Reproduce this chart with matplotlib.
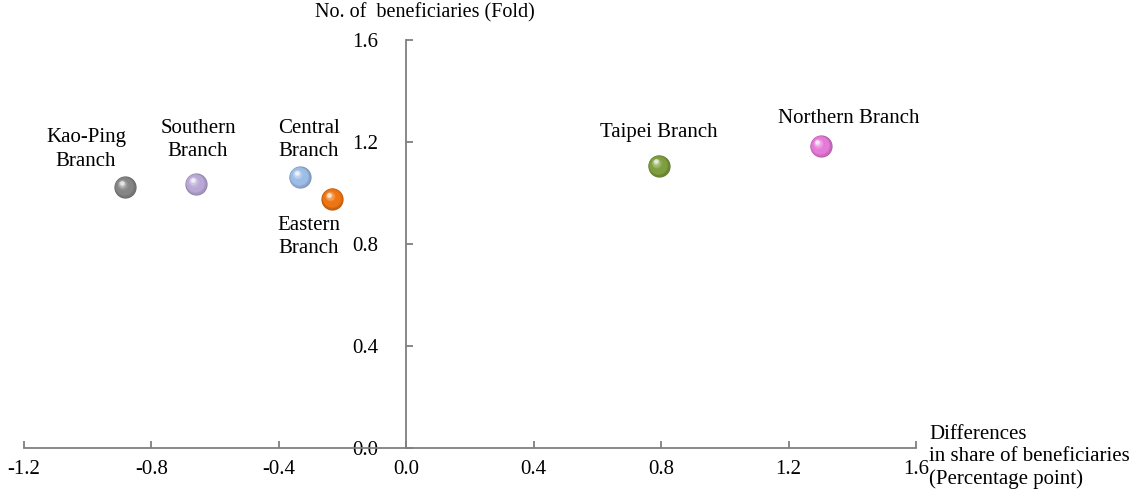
import numpy as np
import matplotlib
matplotlib.use("Agg")
import matplotlib.pyplot as plt
from matplotlib.colors import to_rgb
from matplotlib.transforms import ScaledTranslation

plt.rcParams['font.family'] = ['Liberation Serif', 'DejaVu Serif']

# Branch data: share difference (percentage point) vs. beneficiaries (fold)
branches = ["Kao-Ping\nBranch", "Southern\nBranch", "Central\nBranch",
            "Eastern\nBranch", "Taipei Branch", "Northern Branch"]
share_diff = [-0.883, -0.660, -0.334, -0.232, 0.793, 1.301]
fold = [1.022, 1.034, 1.062, 0.976, 1.106, 1.183]
colors = ["#858585", "#b9a8d6", "#9dbde6", "#ee7512", "#7f9e3e", "#e57ad8"]

# label offsets in pixels (dx, dy) relative to each point
label_offsets = [(-39, 38), (2, 44), (9, 37), (-24, -38), (0, 33), (28, 28)]

x_ticks = [-1.2, -0.8, -0.4, 0.0, 0.4, 0.8, 1.2, 1.6]
y_ticks = [0.0, 0.4, 0.8, 1.2, 1.6]

W, H, DPI = 1135, 496, 100
fig = plt.figure(figsize=(W / DPI, H / DPI), dpi=DPI)
ax = fig.add_axes([24 / W, (H - 447.7) / H, (916 - 24) / W, (447.7 - 40) / H])
ax.set_xlim(-1.2, 1.6)
ax.set_ylim(0, 1.6)

spine_color = "#7f7f7f"
for s in ("top", "right"):
    ax.spines[s].set_visible(False)
ax.spines["left"].set_position(("data", 0))
ax.spines["bottom"].set_position(("data", 0))
for s in ("left", "bottom"):
    ax.spines[s].set_color(spine_color)
    ax.spines[s].set_linewidth(1.3)

ax.set_xticks(x_ticks)
ax.set_xticklabels([f"{v:.1f}" for v in x_ticks])
ax.set_yticks(y_ticks)
ax.set_yticklabels([f"{v:.1f}" for v in y_ticks])
ax.tick_params(axis="x", direction="in", length=5, width=1.3, color=spine_color,
               labelsize=15, pad=9)
ax.tick_params(axis="y", direction="in", length=5, width=1.3, color=spine_color,
               labelsize=15, pad=20)

# shaded spheres: stacked circles, lighter towards the upper-left
n_layers = 16
base_size = 16.0  # marker diameter in points
for x, y, c in zip(share_diff, fold, colors):
    rgb = np.array(to_rgb(c))
    dark = rgb * 0.78
    light = rgb + (1 - rgb) * 0.5
    for i in range(n_layers):
        t = i / (n_layers - 1)
        d = base_size * (1 - 0.8 * t)
        shift = 0.2 * base_size * t
        if t < 0.25:
            col = dark + (rgb - dark) * (t / 0.25)
        elif t < 0.6:
            col = rgb
        else:
            col = rgb + (light - rgb) * ((t - 0.6) / 0.4)
        tr = ax.transData + ScaledTranslation(-shift / 72 * 0.8, shift / 72 * 0.9,
                                              fig.dpi_scale_trans)
        ax.scatter([x], [y], s=d ** 2, color=np.clip(col, 0, 1), transform=tr,
                   linewidths=0, zorder=3 + i)
    # small specular highlight
    tr = ax.transData + ScaledTranslation(-0.15 * base_size / 72,
                                          0.2 * base_size / 72, fig.dpi_scale_trans)
    ax.scatter([x], [y], s=(base_size * 0.2) ** 2, color="white", alpha=0.6,
               transform=tr, linewidths=0, zorder=30)

for name, x, y, (dx, dy) in zip(branches, share_diff, fold, label_offsets):
    ax.annotate(name, (x, y), xytext=(dx * 0.72, dy * 0.72),
                textcoords="offset points", ha="center", va="center",
                fontsize=15, linespacing=1.32, zorder=40)

fig.text(315 / W, 1 - 13 / H, "No. of  beneficiaries (Fold)", ha="left",
         va="center", fontsize=14.5)
fig.text(929 / W, 1 - 457 / H, "Differences\nin share of beneficiaries\n(Percentage point)",
         ha="left", va="center", fontsize=15, linespacing=1.2)

fig.savefig("out.png", dpi=DPI)
